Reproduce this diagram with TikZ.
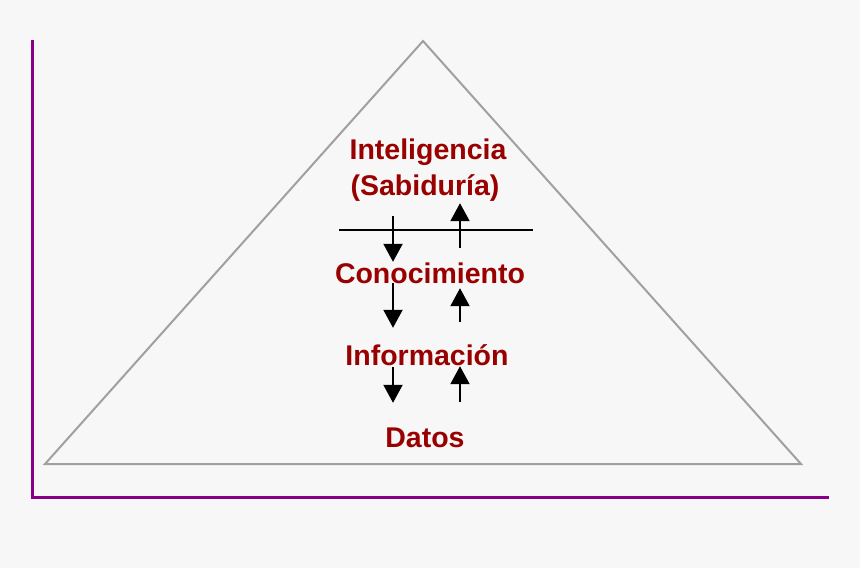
\documentclass[tikz,border=0pt]{standalone}
\usepackage{fontspec}
\setmainfont{Liberation Sans}
\usetikzlibrary{positioning, arrows.meta, calc}
\definecolor{bgcol}{HTML}{F7F7F7}
\definecolor{levelred}{HTML}{990000}
\definecolor{framepurple}{HTML}{880088}
\definecolor{pyrgray}{HTML}{A0A0A0}

\begin{document}
\begin{tikzpicture}[
  x=1pt, y=-1pt,
  level/.style={
    font=\fontsize{28.5}{33}\selectfont\bfseries, text=levelred,
    inner sep=0pt, text height=21pt, text depth=0pt, anchor=base
  },
  arr/.style={draw=black, line width=2pt, -{Triangle[width=19pt, length=18pt]}},
]

\def\xDn{393}  \def\xUp{460}

%% ====================================================================
%%  BACKGROUND AND FRAME
%% ====================================================================
\fill[bgcol] (0,0) rectangle (860,568);
\useasboundingbox (0,0) rectangle (860,568);

\coordinate (axTop)   at (32,40);
\coordinate (axOrig)  at (32,497);
\coordinate (axRight) at (829,497);
\draw[framepurple, line width=3pt] (axTop) -- (axOrig) -- (axRight);

%% ====================================================================
%%  PYRAMID
%% ====================================================================
\coordinate (apex)  at (423,41);
\coordinate (baseW) at (45,464);
\coordinate (baseE) at (801,464);
\draw[pyrgray, line width=2pt, line join=miter] (apex) -- (baseE) -- (baseW) -- cycle;

%% ====================================================================
%%  LEVELS
%% ====================================================================
\node[level] (int) at (428,159) {Inteligencia};
\node[level] (sab) at (425,195) {(Sabiduría)};
\node[level] (con) at (430,283) {Conocimiento};
\node[level] (inf) at (427,365) {Información};
\node[level] (dat) at (425,447) {Datos};

\coordinate (sepW) at (339,230);
\coordinate (sepE) at (533,230);
\draw[black, line width=1.5pt] (sepW) -- (sepE);

\coordinate (dn) at (\xDn,0);
\coordinate (up) at (\xUp,0);

%% -- down arrows --
\draw[arr] ($(sab.south -| dn)+(0,21)$) -- (con.north -| dn);
\draw[arr] (con.south -| dn) -- ($(inf.north -| dn)+(0,-16)$);
\draw[arr] ($(inf.south -| dn)+(0,2)$) -- ($(dat.north -| dn)+(0,-23)$);

%% -- up arrows --
\draw[arr] ($(con.north -| up)+(0,-14)$) -- ($(sab.south -| up)+(0,8)$);
\draw[arr] ($(inf.north -| up)+(0,-22)$) -- ($(con.south -| up)+(0,5)$);
\draw[arr] ($(dat.north -| up)+(0,-24)$) -- ($(inf.south -| up)+(0,1)$);

\end{tikzpicture}
\end{document}
